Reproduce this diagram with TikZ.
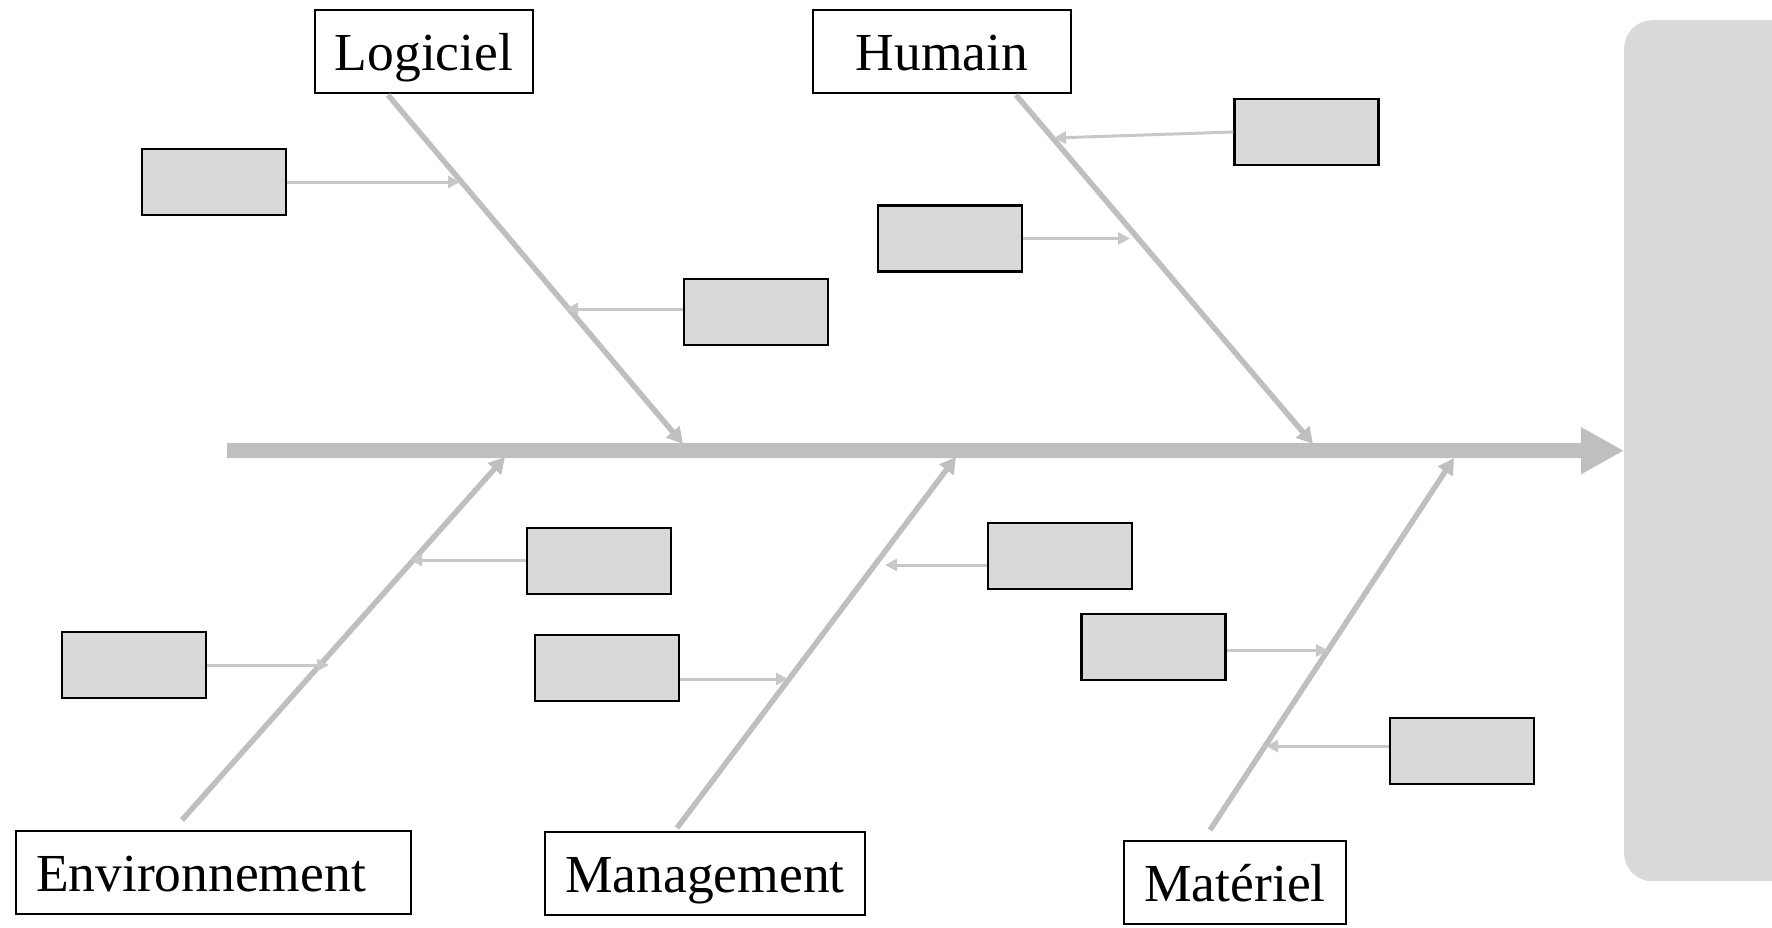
\documentclass[tikz,border=0pt]{standalone}
\usepackage{fontspec}
\setmainfont{Liberation Serif}
\usetikzlibrary{arrows.meta}
\definecolor{spinegray}{HTML}{BFBFBF}
\definecolor{twiggray}{HTML}{C8C8C8}
\definecolor{boxgray}{HTML}{D9D9D9}
\begin{document}
\begin{tikzpicture}[x=1pt,y=-1pt,
  category/.style={draw=black, line width=2pt, fill=white, inner sep=0pt,
    minimum width=#1, minimum height=83pt, text height=38pt, text depth=0pt,
    font=\fontsize{53.5}{60}\selectfont},
  cause/.style={draw=black, line width=2.5pt, fill=boxgray,
    minimum width=144pt, minimum height=66pt, inner sep=0pt},
  effectbox/.style={fill=boxgray, rounded corners=28pt, inner sep=0pt,
    minimum width=200pt, minimum height=861pt, anchor=north west},
  spine/.style={spinegray, line width=15pt, -{Triangle[length=43pt,width=44pt]}},
  bone/.style={spinegray, line width=5.5pt, -{Triangle[length=16pt,width=17pt]}},
  twig/.style={twiggray, line width=3pt, -{Triangle[length=12pt,width=12pt]}},
]
\useasboundingbox (0,0) rectangle (1772,927);

% effect block on the right
\node[effectbox] (effect) at (1624,20) {};

% main spine
\coordinate (tail) at (227,450.5);
\draw[spine] (tail) -- (effect.west);

% category labels
\node[category=218pt] (logi) at (424,51.5) {Logiciel};
\node[category=258pt] (huma) at (942,51.5) {Humain};
\node[category=395pt, inner xsep=20pt, text width=355pt, align=left] (envi) at (213.5,872.5) {Environnement};
\node[category=320pt] (mana) at (705,873.5) {Management};
\node[category=222pt] (mate) at (1235,882.5) {Matériel};

% bones: start and tip on the spine
\coordinate (logiS) at (388,95);   \coordinate (logiT) at (683,444);
\coordinate (humaS) at (1016,95);  \coordinate (humaT) at (1313,444);
\coordinate (enviS) at (182,820);  \coordinate (enviT) at (505,457);
\coordinate (manaS) at (677,828);  \coordinate (manaT) at (956,457);
\coordinate (mateS) at (1210,830); \coordinate (mateT) at (1454,458);
\draw[bone] (logiS) -- (logiT);
\draw[bone] (humaS) -- (humaT);
\draw[bone] (enviS) -- (enviT);
\draw[bone] (manaS) -- (manaT);
\draw[bone] (mateS) -- (mateT);

% cause boxes
\node[cause] (c1)  at (214,182)    {};
\node[cause] (c2)  at (756,312)    {};
\node[cause] (c3)  at (950,238.5)  {};
\node[cause] (c4)  at (1306.5,132) {};
\node[cause] (c5)  at (599,561)    {};
\node[cause] (c6)  at (134,665)    {};
\node[cause] (c7)  at (607,668)    {};
\node[cause] (c8)  at (1060,556)   {};
\node[cause] (c9)  at (1153.5,647) {};
\node[cause] (c10) at (1462,751)   {};

% twig tips on the bones
\coordinate (t1)  at (460,182);
\coordinate (t2)  at (566,309);
\coordinate (t3)  at (1130,238.5);
\coordinate (t4)  at (1054,138);
\coordinate (t5)  at (410,560);
\coordinate (t6)  at (329,665);
\coordinate (t7)  at (788,679);
\coordinate (t8)  at (885,565);
\coordinate (t9)  at (1328,650.5);
\coordinate (t10) at (1266,746);

\draw[twig] (t1 -| c1.east) -- (t1);
\draw[twig] (t2 -| c2.west) -- (t2);
\draw[twig] (t3 -| c3.east) -- (t3);
\draw[twig] (c4.west) -- (t4);
\draw[twig] (t5 -| c5.west) -- (t5);
\draw[twig] (t6 -| c6.east) -- (t6);
\draw[twig] (t7 -| c7.east) -- (t7);
\draw[twig] (t8 -| c8.west) -- (t8);
\draw[twig] (t9 -| c9.east) -- (t9);
\draw[twig] (t10 -| c10.west) -- (t10);
\end{tikzpicture}
\end{document}
